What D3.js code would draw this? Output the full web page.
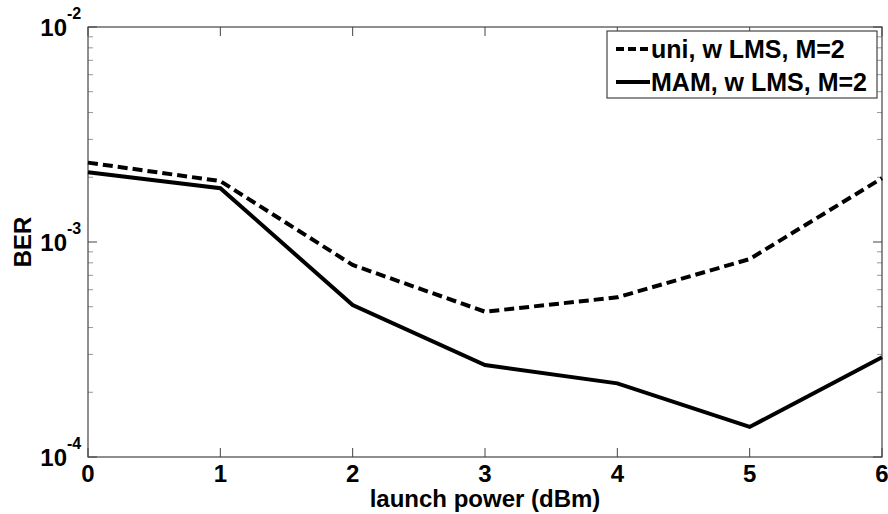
<!DOCTYPE html>
<html>
<head>
<meta charset="utf-8">
<script src="https://cdn.jsdelivr.net/npm/d3@7"></script>
<style>
    body { margin: 0; background: #fff; }
    text { font-family: "Liberation Sans", Arial, sans-serif; font-weight: bold; fill: #000; }
</style>
</head>
<body>
<svg id="chart"></svg>
<script>
const WIDTH = 888, HEIGHT = 514;
const MARGIN = { left: 88, right: 6, top: 27, bottom: 57 };

// launch power (dBm)
const power = [0, 1, 2, 3, 4, 5, 6];
// BER, uni with LMS, M=2 (dashed)
const berUni = [2.34e-3, 1.92e-3, 7.82e-4, 4.74e-4, 5.53e-4, 8.33e-4, 1.98e-3];
// BER, MAM with LMS, M=2 (solid)
const berMam = [2.11e-3, 1.78e-3, 5.09e-4, 2.68e-4, 2.20e-4, 1.38e-4, 2.91e-4];

const xTicks = [0, 1, 2, 3, 4, 5, 6];
const yTicks = [1e-4, 1e-3, 1e-2];
const legendLabels = ["uni, w LMS, M=2", "MAM, w LMS, M=2"];

const svg = d3.select("#chart")
    .attr("width", WIDTH)
    .attr("height", HEIGHT);

const x = d3.scaleLinear()
    .domain([0, 6])
    .range([MARGIN.left, WIDTH - MARGIN.right]);

const y = d3.scaleLog()
    .domain([1e-4, 1e-2])
    .range([HEIGHT - MARGIN.bottom, MARGIN.top]);

const x0 = x.range()[0], x1 = x.range()[1];
const y0 = y.range()[0], y1 = y.range()[1];

// minor log ticks
const minor = [];
[1e-4, 1e-3].forEach(dec => {
    for (let k = 2; k <= 9; k++) minor.push(dec * k);
});

const ticks = svg.append("g")
    .attr("stroke", "#444")
    .attr("stroke-width", 1);

minor.forEach(v => {
    ticks.append("line").attr("x1", x0).attr("x2", x0 + 5).attr("y1", y(v)).attr("y2", y(v)).attr("stroke", "#999");
    ticks.append("line").attr("x1", x1).attr("x2", x1 - 5).attr("y1", y(v)).attr("y2", y(v)).attr("stroke", "#999");
});
yTicks.forEach(v => {
    ticks.append("line").attr("x1", x0).attr("x2", x0 + 9).attr("y1", y(v)).attr("y2", y(v));
    ticks.append("line").attr("x1", x1).attr("x2", x1 - 9).attr("y1", y(v)).attr("y2", y(v));
});
xTicks.forEach(v => {
    ticks.append("line").attr("x1", x(v)).attr("x2", x(v)).attr("y1", y0).attr("y2", y0 - 9);
    ticks.append("line").attr("x1", x(v)).attr("x2", x(v)).attr("y1", y1).attr("y2", y1 + 9);
});

// axis box
svg.append("rect")
    .attr("x", x0)
    .attr("y", y1)
    .attr("width", x1 - x0)
    .attr("height", y0 - y1)
    .attr("fill", "none")
    .attr("stroke", "#444")
    .attr("stroke-width", 1.2);

// x tick labels
svg.append("g")
    .selectAll("text")
    .data(xTicks)
    .join("text")
    .attr("x", d => x(d))
    .attr("y", y0 + 25)
    .attr("text-anchor", "middle")
    .style("font-size", "24px")
    .text(d => d);

// y tick labels 10^n
const yLab = svg.append("g")
    .selectAll("g")
    .data(yTicks)
    .join("g")
    .attr("transform", d => `translate(${[x0 - 21, y(d) + 9]})`);
yLab.append("text")
    .attr("text-anchor", "end")
    .style("font-size", "24px")
    .text("10");
yLab.append("text")
    .attr("x", 0)
    .attr("y", -17)
    .style("font-size", "16px")
    .text(d => Math.round(Math.log10(d)));

// axis titles
svg.append("text")
    .attr("x", (x0 + x1) / 2)
    .attr("y", HEIGHT - 7)
    .attr("text-anchor", "middle")
    .style("font-size", "24px")
    .text("launch power (dBm)");

svg.append("text")
    .attr("transform", `translate(${[31, 242]}) rotate(-90)`)
    .attr("text-anchor", "middle")
    .style("font-size", "24px")
    .text("BER");

// lines
const line = d3.line()
    .x((d, i) => x(power[i]))
    .y(d => y(d));

svg.append("path")
    .datum(berUni)
    .attr("d", line)
    .attr("fill", "none")
    .attr("stroke", "#000")
    .attr("stroke-width", 4)
    .attr("stroke-dasharray", "10,5");

svg.append("path")
    .datum(berMam)
    .attr("d", line)
    .attr("fill", "none")
    .attr("stroke", "#000")
    .attr("stroke-width", 4);

// legend
const legend = svg.append("g")
    .attr("transform", "translate(607,31)");
legend.append("rect")
    .attr("width", 270)
    .attr("height", 67)
    .attr("fill", "#fff")
    .attr("stroke", "#444")
    .attr("stroke-width", 1.2);

legendLabels.forEach((label, i) => {
    const ly = 18 + i * 33;
    legend.append("line")
        .attr("x1", 9).attr("x2", 43)
        .attr("y1", ly).attr("y2", ly)
        .attr("stroke", "#000")
        .attr("stroke-width", 4)
        .attr("stroke-dasharray", i === 0 ? "8,4" : null);
    legend.append("text")
        .attr("x", 44)
        .attr("y", ly + 9)
        .style("font-size", "25px")
        .text(label);
});
</script>
</body>
</html>
